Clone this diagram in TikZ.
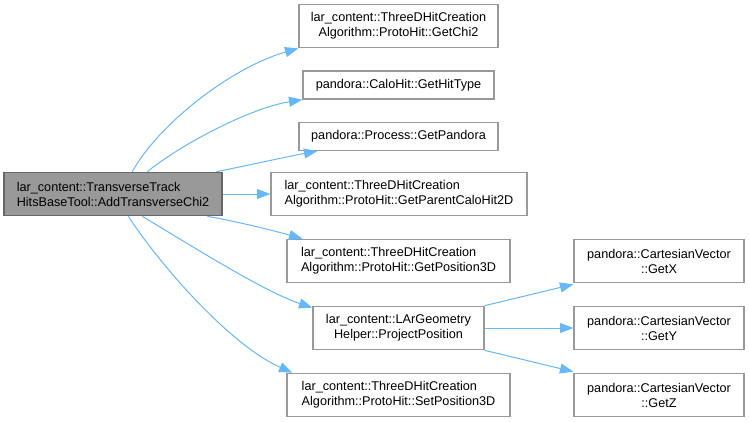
\documentclass[tikz,border=0pt]{standalone}
\usepackage{fontspec}
\setmainfont{Liberation Sans}
\usetikzlibrary{arrows.meta,calc}
\definecolor{edgeblue}{HTML}{63B8FF}
\definecolor{boxgray}{HTML}{999999}
\definecolor{darkgray}{HTML}{666666}
\tikzset{
  fn/.style={draw=boxgray, line width=1pt, fill=white, inner sep=0pt, font=\fontsize{9.5pt}{11.25pt}\selectfont, minimum height=32.5pt},
  fnone/.style={fn, minimum height=21pt},
  fnmain/.style={fn, fill=boxgray, draw=darkgray},
  call/.style={draw=edgeblue, line width=0.75pt, -{Triangle[length=10pt,width=7.5pt]}}
}
\begin{document}
\begin{tikzpicture}[x=0.75pt,y=-0.75pt]
\useasboundingbox (0,0) rectangle (749,421);
\node[fnmain, minimum width=163.5pt, align=left] (main) at (113,194) {lar\_content::TransverseTrack\\HitsBaseTool::AddTransverseChi2};
\node[fn, minimum width=149.25pt, align=center] (chi2) at (398.5,26) {lar\_content::ThreeDHitCreation\\Algorithm::ProtoHit::GetChi2};
\node[fnone, minimum width=143.25pt] (hittype) at (398.5,85) {pandora::CaloHit::GetHitType};
\node[fnone, minimum width=149.25pt] (pandora) at (398.5,136.5) {pandora::Process::GetPandora};
\node[fn, minimum width=192pt, align=left] (parent) at (399,194) {lar\_content::ThreeDHitCreation\\Algorithm::ProtoHit::GetParentCaloHit2D};
\node[fn, minimum width=167.25pt, align=left] (pos3d) at (398.5,261) {lar\_content::ThreeDHitCreation\\Algorithm::ProtoHit::GetPosition3D};
\node[fn, minimum width=128.25pt, align=center] (project) at (398.5,328) {lar\_content::LArGeometry\\Helper::ProjectPosition};
\node[fn, minimum width=167.25pt, align=left] (set3d) at (398.5,395) {lar\_content::ThreeDHitCreation\\Algorithm::ProtoHit::SetPosition3D};
\node[fn, minimum width=127.5pt, align=center] (getx) at (659,261) {pandora::CartesianVector\\::GetX};
\node[fn, minimum width=127.5pt, align=center] (gety) at (659,328) {pandora::CartesianVector\\::GetY};
\node[fn, minimum width=127.5pt, align=center] (getz) at (659,395) {pandora::CartesianVector\\::GetZ};

\draw[call] ($(main.north west)+(129,0)$) .. controls (158,125) and (230,68) .. (chi2.south west);
\draw[call] ($(main.north west)+(144,0)$) .. controls (180,145) and (250,108) .. (hittype.south west);
\draw[call] ($(main.north west)+(213,0)$) .. controls (250,165) and (290,156) .. ($(pandora.south west)+(19,0)$);
\draw[call] (main.east) -- (parent.west);
\draw[call] ($(main.south west)+(204,0)$) .. controls (235,221) and (275,231) .. ($(pos3d.north west)+(16,0)$);
\draw[call] ($(main.south west)+(139,0)$) .. controls (195,248) and (265,292) .. ($(project.north west)+(0,2)$);
\draw[call] ($(main.south west)+(125,0)$) .. controls (160,265) and (230,345) .. ($(set3d.north west)+(6,0)$);
\draw[call] (project.north east) -- ($(getx.south west)+(0,1)$);
\draw[call] (project.east) -- (gety.west);
\draw[call] (project.south east) -- ($(getz.north west)+(0,-1)$);
\end{tikzpicture}
\end{document}
